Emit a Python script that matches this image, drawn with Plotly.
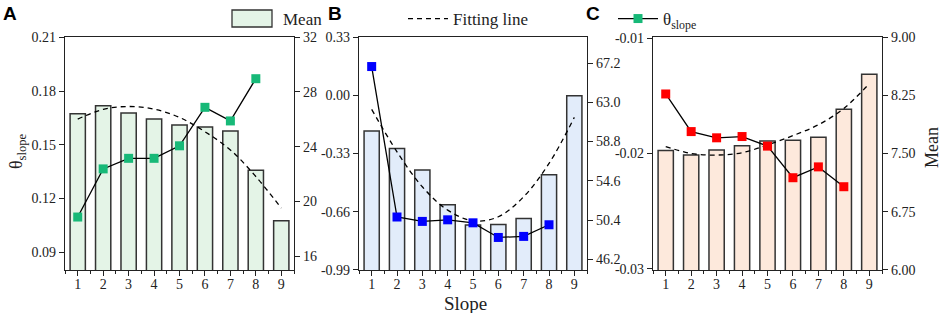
import plotly.graph_objects as go

# ---------------- data ----------------
slope = [1, 2, 3, 4, 5, 6, 7, 8, 9]
slope_theta = [1, 2, 3, 4, 5, 6, 7, 8]

mean_a = [26.40, 26.98, 26.45, 26.01, 25.58, 25.43, 25.14, 22.28, 18.59]
fit_a = [26.01, 26.72, 26.93, 26.74, 26.13, 25.09, 23.76, 21.82, 19.52]
theta_a = [0.1096, 0.1365, 0.1424, 0.1424, 0.1494, 0.1709, 0.1633, 0.1869]

mean_b = [59.93, 58.07, 55.75, 52.04, 49.86, 49.93, 50.57, 55.25, 63.71]
fit_b = [62.25, 57.71, 53.96, 51.46, 50.32, 50.75, 52.90, 56.46, 61.39]
theta_b = [0.163, -0.690, -0.715, -0.706, -0.723, -0.806, -0.800, -0.734]

mean_c = [7.54, 7.48, 7.545, 7.60, 7.66, 7.67, 7.71, 8.07, 8.52]
fit_c = [7.59, 7.50, 7.48, 7.51, 7.61, 7.73, 7.87, 8.08, 8.40]
theta_c = [-0.01484, -0.0181, -0.01864, -0.01853, -0.01936, -0.0221, -0.02116, -0.02288]

# tick labels
x_ticks = [1, 2, 3, 4, 5, 6, 7, 8, 9]
a_left_ticks = [0.09, 0.12, 0.15, 0.18, 0.21]
a_right_ticks = [16, 20, 24, 28, 32]
b_left_ticks = [-0.99, -0.66, -0.33, 0.00, 0.33]
b_right_ticks = [46.2, 50.4, 54.6, 58.8, 63.0, 67.2]
c_left_ticks = [-0.03, -0.02, -0.01]
c_right_ticks = [6.00, 6.75, 7.50, 8.25, 9.00]

# ---------------- style ----------------
W, H = 941, 313
SERIF = "Liberation Serif"
AX = "#222222"
BAR_EDGE = "#333333"
bar_fill = ["#e4f4e7", "#e2ecfa", "#fde9dc"]
marker_col = ["#17b978", "#0000ff", "#ff0000"]
dash = "5px,4px"

def px_x(p):
    return p / W

def px_y(p):
    return 1 - p / H

x_domains = [[px_x(65), px_x(294)], [px_x(359), px_x(587)], [px_x(653), px_x(882)]]
y_domain = [px_y(270), px_y(37)]

fig = go.Figure()

panels = [
    (mean_a, fit_a, theta_a, [15, 32], [0.08, 0.2102], a_right_ticks, [str(v) for v in a_right_ticks],
     a_left_ticks, ["%.2f" % v for v in a_left_ticks]),
    (mean_b, fit_b, theta_b, [45.05, 70.0], [-0.9905, 0.3305], b_right_ticks, ["%.1f" % v for v in b_right_ticks],
     b_left_ticks, ["%.2f" % v for v in b_left_ticks]),
    (mean_c, fit_c, theta_c, [5.999, 9.001], [-0.0301, -0.0099], c_right_ticks, ["%.2f" % v for v in c_right_ticks],
     c_left_ticks, ["%.2f" % v for v in c_left_ticks]),
]

tfont = dict(family=SERIF, size=14, color="#222")
layout_axes = {}
for i, (mean, fit, theta, rr, lr, rtv, rtt, ltv, ltt) in enumerate(panels):
    xa = "x" if i == 0 else f"x{i+1}"
    ya_base = "y" if i == 0 else f"y{2*i+1}"
    ya_over = f"y{2*i+2}"
    fig.add_trace(go.Bar(x=slope, y=mean, width=0.6,
                         marker=dict(color=bar_fill[i], line=dict(color=BAR_EDGE, width=1.5)),
                         xaxis=xa, yaxis=ya_base, showlegend=False))
    fig.add_trace(go.Scatter(x=slope, y=fit, mode="lines",
                             line=dict(color="black", width=1.3, dash=dash, shape="spline"),
                             xaxis=xa, yaxis=ya_base, name="Fitting line", showlegend=(i == 0), legend="legend"))
    fig.add_trace(go.Scatter(x=slope_theta, y=theta, mode="lines+markers",
                             line=dict(color="black", width=1.3),
                             marker=dict(symbol="square", size=9, color=marker_col[i]),
                             xaxis=xa, yaxis=ya_over, name="θ<sub>slope</sub>", showlegend=(i == 0),
                             legend="legend2"))

    xkey = "xaxis" if i == 0 else f"xaxis{i+1}"
    ybkey = "yaxis" if i == 0 else f"yaxis{2*i+1}"
    yokey = f"yaxis{2*i+2}"
    layout_axes[xkey] = dict(domain=x_domains[i], range=[0.5, 9.5], anchor=ya_base, tickvals=x_ticks,
                             ticks="outside", ticklen=5, tickwidth=1.2, tickcolor=AX, ticklabelstandoff=-4,
                             minor=dict(tick0=0.5, dtick=1, ticks="outside", ticklen=3, tickwidth=1.2, tickcolor=AX),
                             showline=True, linecolor=AX, linewidth=1.3, mirror=True, showgrid=False,
                             zeroline=False, tickfont=tfont, automargin=False)
    layout_axes[ybkey] = dict(domain=y_domain, range=rr, anchor=xa, side="right", tickvals=rtv, ticktext=rtt,
                              ticks="outside", ticklen=5, tickwidth=1.2, tickcolor=AX,
                              showline=True, linecolor=AX, linewidth=1.3, showgrid=False, zeroline=False,
                              tickfont=tfont, automargin=False)
    layout_axes[yokey] = dict(range=lr, overlaying=ya_base, anchor=xa, side="left", tickvals=ltv, ticktext=ltt,
                              ticks="outside", ticklen=5, tickwidth=1.2, tickcolor=AX,
                              showline=True, linecolor=AX, linewidth=1.3, showgrid=False, zeroline=False,
                              tickfont=tfont, automargin=False)

fig.update_layout(**layout_axes)

annotations = [
    dict(text="<b>A</b>", x=px_x(1), y=px_y(1), xanchor="left", yanchor="top"),
    dict(text="<b>B</b>", x=px_x(326), y=px_y(1), xanchor="left", yanchor="top"),
    dict(text="<b>C</b>", x=px_x(584), y=px_y(1), xanchor="left", yanchor="top"),
]
for a in annotations:
    a.update(xref="paper", yref="paper", showarrow=False,
             font=dict(family="Liberation Sans", size=19, color="black"))

annotations += [
    dict(text="θ<sub>slope</sub>", x=px_x(18), y=px_y(151), xanchor="center", yanchor="middle", textangle=-90,
         xref="paper", yref="paper", showarrow=False, font=dict(family=SERIF, size=18, color="#222")),
    dict(text="Mean", x=px_x(932), y=px_y(148), xanchor="center", yanchor="middle", textangle=-90,
         xref="paper", yref="paper", showarrow=False, font=dict(family=SERIF, size=18, color="#222")),
    dict(text="Slope", x=px_x(465), y=px_y(303), xanchor="center", yanchor="middle",
         xref="paper", yref="paper", showarrow=False, font=dict(family=SERIF, size=19, color="#222")),
    dict(text="Mean", x=px_x(281), y=px_y(19), xanchor="left", yanchor="middle",
         xref="paper", yref="paper", showarrow=False, font=dict(family=SERIF, size=17, color="#222")),
]

shapes = [dict(type="rect", xref="paper", yref="paper", x0=px_x(232), x1=px_x(272), y0=px_y(27), y1=px_y(10),
               fillcolor=bar_fill[0], line=dict(color=BAR_EDGE, width=1.3))]

fig.update_layout(
    width=W, height=H,
    font=dict(family=SERIF, size=14, color="#222"),
    margin=dict(l=0, r=0, t=0, b=0, autoexpand=False),
    plot_bgcolor="white", paper_bgcolor="white",
    annotations=annotations,
    shapes=shapes,
    legend=dict(x=px_x(403), y=px_y(19), xanchor="left", yanchor="middle", orientation="h",
                font=dict(family=SERIF, size=17, color="#222"), itemwidth=40, bgcolor="rgba(0,0,0,0)"),
    legend2=dict(x=px_x(613), y=px_y(19), xanchor="left", yanchor="middle", orientation="h",
                 font=dict(family=SERIF, size=17, color="#222"), itemwidth=40, bgcolor="rgba(0,0,0,0)"),
)

fig.write_html("out.html", config={"displayModeBar": False},
               post_script="document.body.style.margin='0';document.body.style.overflow='hidden';")
